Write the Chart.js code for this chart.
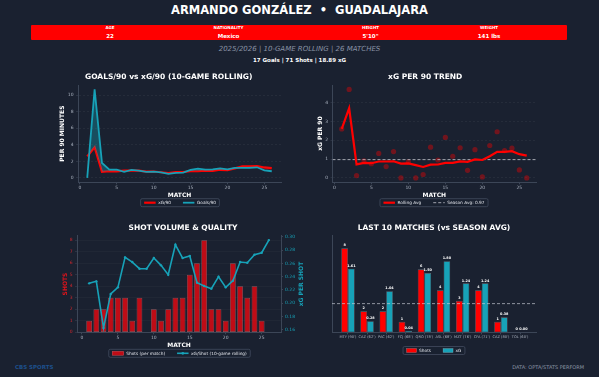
<!DOCTYPE html>
<html>
<head>
<meta charset="utf-8">
<script src="https://cdn.jsdelivr.net/npm/chart.js@4.4.1/dist/chart.umd.min.js"></script>
<style>
html,body{margin:0;padding:0;background:#1a2130;}
#page{position:relative;width:599px;height:377px;overflow:hidden;background:#1a2130;font-family:"DejaVu Sans",sans-serif;color:#fff;}
.t{position:absolute;white-space:pre;line-height:1;}
canvas{position:absolute;}
</style>
</head>
<body>
<div id="page">
  <div class="t" style="left:0;width:599px;text-align:center;top:5.3px;font-size:11.5px;font-weight:bold;">ARMANDO GONZÁLEZ  •  GUADALAJARA</div>
  <div style="position:absolute;left:31px;top:24.7px;width:536px;height:15px;background:#ff0000;border-radius:1px;"></div>
  <div id="info"></div>
  <div class="t" style="left:0;width:599px;text-align:center;top:45.6px;font-size:7px;font-style:italic;color:#8a94a6;">2025/2026 | 10-GAME ROLLING | 26 MATCHES</div>
  <div class="t" style="left:0;width:599px;text-align:center;top:58.4px;font-size:5.5px;font-weight:bold;">17 Goals | 71 Shots | 18.89 xG</div>
  <div class="t" style="left:15px;top:365px;font-size:5.5px;font-weight:bold;color:#1d4f8c;">CBS SPORTS</div>
  <div class="t" style="right:15px;top:365.3px;font-size:5px;color:#8b95a5;">DATA: OPTA/STATS PERFORM</div>
</div>
<script>
// ===================== DATA =====================
const INFO_LABELS = ['AGE','NATIONALITY','HEIGHT','WEIGHT'];
const INFO_VALUES = ['22','Mexico','5\'10"','141 lbs'];

const MATCHES = [1,2,3,4,5,6,7,8,9,10,11,12,13,14,15,16,17,18,19,20,21,22,23,24,25,26];
const X_TICKS = [0,5,10,15,20,25];

// 10-game rolling per 90
const XG90_ROLL    = [2.6,3.7,0.72,0.8,0.78,0.87,0.87,0.88,0.76,0.77,0.68,0.58,0.7,0.71,0.8,0.8,0.88,0.85,0.98,0.95,1.15,1.38,1.38,1.42,1.26,1.18];
const GOALS90_ROLL = [0,10.7,1.8,1.0,1.0,0.72,0.96,0.88,0.72,0.76,0.66,0.48,0.6,0.64,0.96,1.12,1.0,1.04,1.16,1.04,1.2,1.2,1.2,1.28,0.9,0.8];
const Y1_TICKS = [0,2,4,6,8,10];

// single-match xG per 90
const XG90_MATCH = [2.6,4.7,0.12,0.9,0.75,1.3,0.6,1.4,0,0.85,0,0.18,1.63,0.95,2.15,1.15,1.6,0.4,1.5,0.05,1.72,2.45,1.45,1.58,0.42,0];
const SEASON_XG90 = 0.97;
const Y2_TICKS = [0,1,2,3,4];

// shots per match + rolling xG per shot
const SHOTS       = [1,2,2,3,3,3,1,3,0,2,1,2,3,3,5,6,8,2,2,1,6,4,3,4,1,0];
const XG_PER_SHOT = [0.23,0.233,0.163,0.214,0.224,0.269,0.262,0.252,0.252,0.268,0.257,0.243,0.288,0.268,0.271,0.231,0.226,0.222,0.24,0.224,0.234,0.262,0.261,0.273,0.276,0.295];
const SHOT_TICKS = [0,1,2,3,4,5,6,7,8];
const XGS_TICKS  = [0.16,0.18,0.20,0.22,0.24,0.26,0.28,0.30];

// last 10 matches
const LAST10_OPP   = ["MTY (90')","CAZ (62')","PAC (62')","FCJ (68')","QRO (78')","ASL (68')","MZT (76')","CFA (71')","CAZ (80')","TOL (60')"];
const LAST10_SHOTS = [8,2,2,1,6,4,3,4,1,0];
const LAST10_XG    = [1.61,0.28,1.04,0.04,1.50,1.80,1.24,1.24,0.38,0.00];
const LAST10_POS   = [0,1,2,3,4,5,6,7,8,9];

const TOTAL_MATCHES = 26, TOTAL_SHOTS = 71, TOTAL_XG = 18.89;

// ===================== STYLE =====================
const FONT = '"DejaVu Sans", sans-serif';
const RED = '#ff0000', CYAN = '#17a2b8';
const TICK_COLOR = '#aab2bf', SPINE = '#3c4657', GRID = 'rgba(255,255,255,0.10)';

Chart.defaults.font.family = FONT;
Chart.defaults.color = TICK_COLOR;
Chart.defaults.animation = false;

// header info cells
const INFO_X = [110, 228.5, 370.5, 489];
document.getElementById('info').innerHTML = INFO_LABELS.map((l,i)=>
  `<div class="t" style="left:${INFO_X[i]-60}px;width:120px;text-align:center;top:26.4px;font-size:4px;font-weight:bold;">${l}</div>`+
  `<div class="t" style="left:${INFO_X[i]-60}px;width:120px;text-align:center;top:33.6px;font-size:5.5px;font-weight:bold;">${INFO_VALUES[i]}</div>`).join('');

// ===================== HELPERS =====================
function makeCanvas(L,T,W,H){
  const c=document.createElement('canvas');
  c.width=W; c.height=H;
  c.style.left=L+'px'; c.style.top=T+'px';
  document.getElementById('page').appendChild(c);
  return c;
}
const fixW = w => s => { s.width = w; };
const fixH = h => s => { s.height = h; };
const setTicks = vals => s => { s.ticks = vals.map(v=>({value:v})); };
function pad5(lo,hi){ const m=(hi-lo)*0.05; return [lo-m, hi+m]; }
const pts = (xs,ys) => xs.map((x,i)=>({x, y:ys[i]}));

// framed legend drawn from the datasets
const boxLegend = {
  id:'boxLegend',
  afterDraw(chart, args, o){
    if(o.cx==null) return;
    const ctx=chart.ctx;
    const ox=chart.canvas.offsetLeft, oy=chart.canvas.offsetTop;
    const items=chart.data.datasets.filter(d=>d.legendType);
    const fs=o.size||4.3, sw=o.sample||11, gap=o.gap||10, tg=2.5, px=o.padX||3.5, h=o.h||8;
    ctx.save();
    ctx.font=fs+'px '+FONT;
    const ws=items.map(d=>sw+tg+ctx.measureText(d.label).width);
    const total=ws.reduce((a,b)=>a+b,0)+gap*(items.length-1);
    let x=o.cx-ox-total/2; const cy=o.cy-oy;
    ctx.fillStyle='rgba(26,33,48,0.85)'; ctx.strokeStyle='#424d5f'; ctx.lineWidth=0.8;
    ctx.beginPath(); ctx.roundRect(x-px, cy-h/2, total+2*px, h, 1.5); ctx.fill(); ctx.stroke();
    items.forEach((d,i)=>{
      if(d.legendType==='box'){
        ctx.fillStyle=d.backgroundColor; ctx.fillRect(x, cy-2, sw, 4);
        ctx.strokeStyle=d.borderColor; ctx.lineWidth=0.5; ctx.strokeRect(x, cy-2, sw, 4);
      } else {
        ctx.strokeStyle=d.borderColor; ctx.lineWidth=d.borderWidth;
        ctx.setLineDash(d.borderDash||[]);
        ctx.beginPath(); ctx.moveTo(x, cy); ctx.lineTo(x+sw, cy); ctx.stroke();
        ctx.setLineDash([]);
        if(d.legendType==='linept'){ ctx.fillStyle=d.borderColor; ctx.beginPath(); ctx.arc(x+sw/2, cy, 1.4, 0, Math.PI*2); ctx.fill(); }
      }
      ctx.fillStyle='#e2e6ec'; ctx.textAlign='left'; ctx.textBaseline='middle';
      ctx.fillText(d.label, x+sw+tg, cy+0.3);
      x+=ws[i]+gap;
    });
    ctx.restore();
  }
};

// value labels on top of bars
const barLabels = {
  id:'barLabels',
  afterDatasetsDraw(chart){
    const ctx=chart.ctx;
    chart.data.datasets.forEach((d,di)=>{
      if(!d.valueLabels) return;
      const meta=chart.getDatasetMeta(di);
      ctx.save();
      ctx.font='bold 3.4px '+FONT; ctx.fillStyle='#ffffff';
      ctx.textAlign='center'; ctx.textBaseline='bottom';
      meta.data.forEach((el,i)=>ctx.fillText(d.valueLabels[i], el.x, el.y-1));
      ctx.restore();
    });
  }
};

// right-hand axis title reading bottom-to-top
const sideTitle = {
  id:'sideTitle',
  afterDraw(chart, args, o){
    if(!o.text) return;
    const ctx=chart.ctx, s=chart.scales[o.scale];
    ctx.save();
    ctx.translate(o.x-chart.canvas.offsetLeft, (s.top+s.bottom)/2);
    ctx.rotate(-Math.PI/2);
    ctx.font='bold 6px '+FONT; ctx.fillStyle=o.color;
    ctx.textAlign='center'; ctx.textBaseline='middle';
    ctx.fillText(o.text, 0, 0);
    ctx.restore();
  }
};
Chart.register(boxLegend, barLabels, sideTitle);

const titleOpts = (text, top, bottom) => ({display:true, text, color:'#ffffff', font:{size:7.5, weight:'bold'}, padding:{top, bottom}});
const axTitle = (text, color, pad) => ({display:true, text, color, font:{size:6, weight:'bold'}, padding:pad});
const tickFont = {size:4.5};

const XR = pad5(MATCHES[0], MATCHES[MATCHES.length-1]);

// ===================== CHART 1: Goals/90 vs xG/90 =====================
const y1r = pad5(0, Math.max(...GOALS90_ROLL));
new Chart(makeCanvas(20,68,280,140), {
  type:'line',
  data:{datasets:[
    {label:'xG/90', data:pts(MATCHES,XG90_ROLL), borderColor:RED, borderWidth:2.2, pointRadius:0, order:2, legendType:'line'},
    {label:'Goals/90', data:pts(MATCHES,GOALS90_ROLL), borderColor:CYAN, borderWidth:1.8, pointRadius:0, order:1, legendType:'line',
     fill:{target:0, above:'rgba(23,162,184,0.35)', below:'rgba(255,0,0,0.22)'}}
  ]},
  options:{
    responsive:false,
    layout:{padding:{left:36.4, right:19, top:0, bottom:9.4}},
    plugins:{legend:{display:false}, tooltip:{enabled:false},
      title:titleOpts('GOALS/90 vs xG/90 (10-GAME ROLLING)', 4.5, 3.5),
      boxLegend:{cx:180, cy:202.7, sample:11.5, gap:12}},
    scales:{
      x:{type:'linear', min:XR[0], max:XR[1], afterBuildTicks:setTicks(X_TICKS), afterFit:fixH(16.3),
         grid:{drawOnChartArea:false, color:SPINE, tickLength:2}, border:{color:SPINE},
         ticks:{padding:0.5, font:tickFont, color:TICK_COLOR, maxRotation:0, autoSkip:false},
         title:axTitle('MATCH','#ffffff',{top:0,bottom:0})},
      y:{min:y1r[0], max:y1r[1], afterBuildTicks:setTicks(Y1_TICKS), afterFit:fixW(21.6),
         grid:{color:GRID, lineWidth:0.5, tickLength:2, tickColor:SPINE}, border:{color:SPINE, dash:[2,2]},
         ticks:{padding:2.4, font:tickFont, color:TICK_COLOR},
         title:axTitle('PER 90 MINUTES','#ffffff',{top:2,bottom:0})}
    }
  }
});

// ===================== CHART 2: xG per 90 trend =====================
const y2r = pad5(0, Math.max(...XG90_MATCH));
new Chart(makeCanvas(300,68,299,140), {
  type:'line',
  data:{datasets:[
    {label:'xG per 90', data:pts(MATCHES,XG90_MATCH), showLine:false, pointRadius:2.6, pointBorderWidth:0,
     pointBackgroundColor:'rgba(255,0,0,0.38)', borderColor:'rgba(255,0,0,0.38)', order:3},
    {label:'Rolling Avg', data:pts(MATCHES,XG90_ROLL), borderColor:RED, borderWidth:2.2, pointRadius:0, order:1, legendType:'line'},
    {label:'Season Avg: '+SEASON_XG90.toFixed(2), data:[{x:XR[0],y:SEASON_XG90},{x:XR[1],y:SEASON_XG90}],
     borderColor:'rgba(215,218,224,0.8)', borderWidth:0.9, borderDash:[3,2], pointRadius:0, order:2, legendType:'line'}
  ]},
  options:{
    responsive:false,
    layout:{padding:{left:14.4, right:63, top:0, bottom:9.4}},
    plugins:{legend:{display:false}, tooltip:{enabled:false},
      title:titleOpts('xG PER 90 TREND', 4.5, 3.5),
      boxLegend:{cx:434, cy:202.7, sample:11.5, gap:12}},
    scales:{
      x:{type:'linear', min:XR[0], max:XR[1], afterBuildTicks:setTicks(X_TICKS), afterFit:fixH(16.3),
         grid:{drawOnChartArea:false, color:SPINE, tickLength:2}, border:{color:SPINE},
         ticks:{padding:0.5, font:tickFont, color:TICK_COLOR, maxRotation:0, autoSkip:false},
         title:axTitle('MATCH','#ffffff',{top:0,bottom:0})},
      y:{min:y2r[0], max:y2r[1], afterBuildTicks:setTicks(Y2_TICKS), afterFit:fixW(18.1),
         grid:{color:GRID, lineWidth:0.5, tickLength:2, tickColor:SPINE}, border:{color:SPINE, dash:[2,2]},
         ticks:{padding:2.4, font:tickFont, color:TICK_COLOR},
         title:axTitle('xG PER 90','#ffffff',{top:2,bottom:0})}
    }
  }
});

// ===================== CHART 3: Shot volume & quality =====================
const x3r = pad5(MATCHES[0]-0.4, MATCHES[MATCHES.length-1]+0.4);
const y3r = [0, Math.max(...SHOTS)*1.05];
const y3b = pad5(Math.min(...XG_PER_SHOT), Math.max(...XG_PER_SHOT));
new Chart(makeCanvas(20,218,290,142), {
  type:'bar',
  data:{datasets:[
    {type:'bar', label:'Shots (per match)', data:pts(MATCHES,SHOTS), yAxisID:'y', order:2, legendType:'box',
     backgroundColor:'rgba(232,8,16,0.8)', borderColor:'rgba(255,130,130,0.55)', borderWidth:0.7, borderSkipped:false,
     barPercentage:0.8, categoryPercentage:1},
    {type:'line', label:'xG/Shot (10-game rolling)', data:pts(MATCHES,XG_PER_SHOT), yAxisID:'y2', order:1, legendType:'linept',
     borderColor:CYAN, borderWidth:1.6, pointRadius:1.2, pointBackgroundColor:CYAN, pointBorderWidth:0}
  ]},
  options:{
    responsive:false,
    layout:{padding:{left:40.1, right:4, top:0, bottom:10.7}},
    plugins:{legend:{display:false}, tooltip:{enabled:false},
      title:titleOpts('SHOT VOLUME & QUALITY', 5.5, 3.2),
      boxLegend:{cx:179.5, cy:353.3, sample:11.5, gap:12},
      sideTitle:{text:'xG PER SHOT', scale:'y2', x:301.7, color:CYAN}},
    scales:{
      x:{type:'linear', min:x3r[0], max:x3r[1], offset:false, afterBuildTicks:setTicks(X_TICKS), afterFit:fixH(17),
         grid:{drawOnChartArea:false, offset:false, color:SPINE, tickLength:2}, border:{color:SPINE},
         ticks:{padding:1, font:tickFont, color:TICK_COLOR, maxRotation:0, autoSkip:false},
         title:axTitle('MATCH','#ffffff',{top:0,bottom:0})},
      y:{min:y3r[0], max:y3r[1], afterBuildTicks:setTicks(SHOT_TICKS), afterFit:fixW(16.9),
         grid:{color:'rgba(255,255,255,0.06)', lineWidth:0.5, tickLength:2, tickColor:SPINE}, border:{color:SPINE},
         ticks:{padding:2.4, font:tickFont, color:'#d0262c'},
         title:axTitle('SHOTS','#e0131b',{top:2,bottom:0})},
      y2:{position:'right', min:y3b[0], max:y3b[1], afterBuildTicks:setTicks(XGS_TICKS), afterFit:fixW(25),
         grid:{drawOnChartArea:false, color:SPINE, tickLength:2}, border:{color:SPINE},
         ticks:{padding:2, font:tickFont, color:CYAN, callback:v=>v.toFixed(2)}}
    }
  }
});

// ===================== CHART 4: Last 10 matches =====================
const XG_SCALE = TOTAL_SHOTS / TOTAL_XG;
const SHOTS_AVG = TOTAL_SHOTS / TOTAL_MATCHES;
const x4r = pad5(LAST10_POS[0]-0.35, LAST10_POS[LAST10_POS.length-1]+0.35);
new Chart(makeCanvas(310,218,289,142), {
  type:'bar',
  data:{datasets:[
    {label:'Shots', data:pts(LAST10_POS,LAST10_SHOTS), order:1, legendType:'box',
     backgroundColor:RED, borderColor:'rgba(255,255,255,0.35)', borderWidth:0.6, borderSkipped:false,
     categoryPercentage:0.7, barPercentage:1, valueLabels:LAST10_SHOTS.map(String)},
    {label:'xG', data:pts(LAST10_POS,LAST10_XG.map(v=>v*XG_SCALE)), order:1, legendType:'box',
     backgroundColor:CYAN, borderColor:'rgba(255,255,255,0.35)', borderWidth:0.6, borderSkipped:false,
     categoryPercentage:0.7, barPercentage:1, valueLabels:LAST10_XG.map(v=>v.toFixed(2))},
    {type:'line', label:'Season avg shots', data:[{x:x4r[0],y:SHOTS_AVG},{x:x4r[1],y:SHOTS_AVG}], order:0,
     borderColor:'rgba(205,208,214,0.75)', borderWidth:0.9, borderDash:[3,2], pointRadius:0}
  ]},
  options:{
    responsive:false,
    layout:{padding:{left:22, right:63, top:0, bottom:19.7}},
    plugins:{legend:{display:false}, tooltip:{enabled:false},
      title:titleOpts('LAST 10 MATCHES (vs SEASON AVG)', 5.5, 3.2),
      boxLegend:{cx:434, cy:350.5, sample:10, gap:12}},
    scales:{
      x:{type:'linear', min:x4r[0], max:x4r[1], offset:false, afterBuildTicks:setTicks(LAST10_POS), afterFit:fixH(8),
         grid:{drawOnChartArea:false, offset:false, color:SPINE, tickLength:2}, border:{color:SPINE},
         ticks:{padding:1, font:{size:3.6}, color:TICK_COLOR, maxRotation:0, autoSkip:false, callback:v=>LAST10_OPP[v]??''}},
      y:{min:0, max:Math.max(...LAST10_SHOTS)*1.15, afterFit:fixW(0),
         grid:{display:false}, border:{color:SPINE}, ticks:{display:false}}
    }
  }
});
</script>
</body>
</html>
